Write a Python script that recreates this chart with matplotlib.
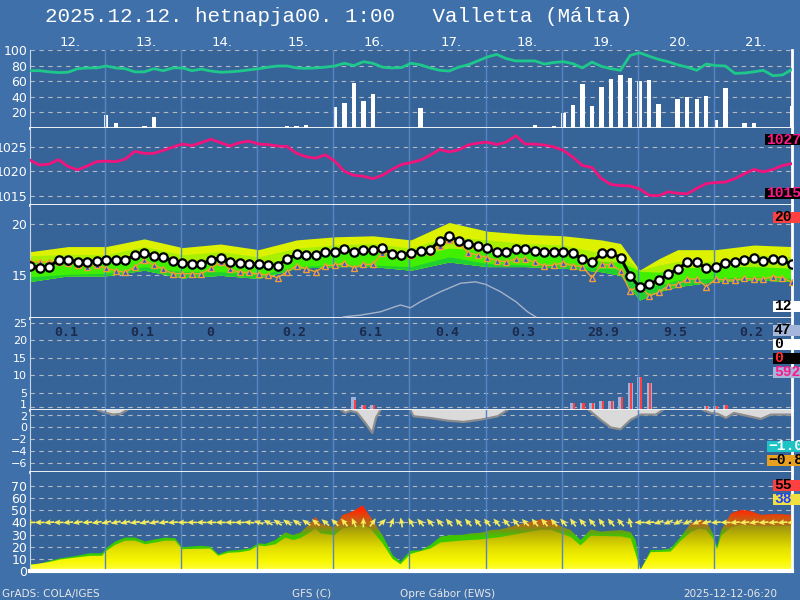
import numpy as np
import matplotlib
matplotlib.use('Agg')
import matplotlib.pyplot as plt
from matplotlib.colors import LinearSegmentedColormap
from matplotlib.path import Path
from matplotlib.patches import PathPatch, Rectangle
from matplotlib.transforms import blended_transform_factory, ScaledTranslation

# ---------------------------------------------------------------- data
hours = np.arange(0, 243, 3)          # 3-hourly steps, 10 days
day_names = ['12.', '13.', '14.', '15.', '16.', '17.', '18.', '19.', '20.', '21.']
day_lines = [23.5 + 24 * k for k in range(9)]

# relative humidity (%)
rh = [73.5, 73.5, 72, 71, 71.5, 76, 77, 77,
      79.5, 77, 76, 72, 72, 76, 73.5, 77,
      77, 73.5, 75.5, 73, 71.5, 72, 73, 74.5,
      76, 78, 79.5, 79.5, 77, 76.5, 77, 78,
      79.5, 83, 80, 85, 83, 78, 77, 77.5,
      83, 81, 77, 74, 73, 78, 81, 86,
      91, 94.4, 89, 86, 86, 86, 82, 84,
      85, 82.5, 77, 84.5, 79, 76, 74, 93,
      96.5, 92, 88, 85, 81, 78, 74, 82,
      80, 79.5, 70, 70.5, 72, 74, 67, 68, 75]

# cloud cover bars (%)
cloud_h = [24, 27, 36, 39, 81, 84, 87, 96, 99, 102, 105, 108, 123, 159, 165, 168, 171, 174,
           177, 180, 183, 186, 189, 192, 195, 198, 204, 207, 210, 213, 216, 219, 225, 228, 240]
cloud_v = [17, 6, 3, 14, 2, 2, 4, 27, 32, 58, 35, 43, 26, 4, 3, 19, 30, 56,
           28, 52, 63, 68, 64, 60, 61, 31, 37, 40, 37, 41, 10, 51, 6, 7, 28]

# sea level pressure (hPa)
slp = [1022.3, 1021.3, 1021.5, 1022.4, 1021.0, 1020.3, 1021.1, 1022.0,
       1022.1, 1022.0, 1022.5, 1024.1, 1023.7, 1023.7, 1024.3, 1025.0,
       1025.6, 1025.3, 1025.9, 1026.6, 1025.9, 1025.2, 1025.9, 1026.2,
       1025.6, 1025.5, 1025.2, 1025.1, 1023.7, 1023.0, 1022.7, 1023.4,
       1022.1, 1020.0, 1019.2, 1019.0, 1018.5, 1019.2, 1020.4, 1021.4,
       1021.8, 1022.3, 1023.3, 1024.5, 1024.0, 1024.4, 1025.4, 1025.8,
       1026.0, 1025.5, 1026.0, 1027.3, 1025.6, 1025.6, 1025.4, 1025.0,
       1024.3, 1022.9, 1021.2, 1020.8, 1018.5, 1017.3, 1017.1, 1017.0,
       1016.4, 1015.1, 1015.0, 1015.8, 1015.5, 1015.4, 1016.5, 1017.5,
       1017.7, 1017.8, 1018.5, 1019.5, 1020.4, 1019.9, 1020.4, 1021.2, 1021.6]

# 2 m temperature (deterministic) and second run
t2m = [15.94, 15.74, 15.84, 16.49, 16.49, 16.33, 16.33, 16.4,
       16.46, 16.52, 16.49, 16.98, 17.2, 16.88, 16.78, 16.42,
       16.2, 16.13, 16.07, 16.52, 16.66, 16.33, 16.17, 16.13,
       16.07, 16.0, 15.94, 16.59, 17.05, 16.95, 16.95, 17.24,
       17.3, 17.53, 17.27, 17.44, 17.44, 17.66, 17.08, 17.0,
       17.17, 17.4, 17.47, 18.38, 18.83, 18.35, 18.02, 17.9,
       17.63, 17.3, 17.3, 17.6, 17.53, 17.37, 17.3, 17.3,
       17.3, 17.2, 16.56, 16.27, 17.14, 17.14, 16.72, 14.96,
       13.83, 14.12, 14.54, 15.1, 15.61, 16.27, 16.27, 15.68,
       15.84, 16.2, 16.33, 16.52, 16.66, 16.39, 16.59, 16.46, 16.07]
t2m_b = [16.33, 16.3, 16.3, 16.3, 16.2, 16.0, 15.84, 16.0,
         15.68, 15.45, 15.29, 15.84, 16.49, 15.97, 15.61, 15.16,
         15.16, 15.16, 15.16, 15.68, 16.33, 15.61, 15.29, 15.29,
         15.1, 15.03, 14.77, 15.35, 15.94, 15.61, 15.35, 15.94,
         16.0, 16.17, 15.74, 16.07, 16.07, 17.2, 17.2, 16.98,
         17.0, 17.37, 17.24, 17.89, 18.44, 18.12, 17.2, 16.98,
         16.72, 16.43, 16.33, 16.59, 16.59, 16.27, 15.94, 16.0,
         16.23, 15.94, 15.84, 14.77, 16.07, 16.07, 15.42, 13.47,
         13.99, 13.01, 13.34, 13.99, 14.12, 14.64, 14.64, 13.89,
         14.64, 14.54, 14.54, 14.7, 14.64, 14.64, 14.86, 14.77, 14.32]

# ensemble spread band edges
ens_h = [0, 12, 24, 36, 48, 60, 72, 84, 96, 108, 120, 132, 144, 156, 168, 180, 186, 192, 198, 204, 216, 228, 240]
ens_top = [17.3, 17.8, 17.8, 18.55, 17.7, 18.05, 17.5, 18.45, 18.75, 18.85, 18.45, 20.15,
           19.3, 19.0, 18.85, 18.45, 18.1, 15.5, 16.6, 17.5, 17.5, 17.95, 17.8]
ens_b1 = [16.9, 17.05, 17.0, 17.8, 17.0, 17.3, 16.8, 17.65, 17.95, 18.1, 17.65, 18.8,
          18.45, 18.1, 17.95, 17.15, 17.1, 15.5, 16.0, 16.35, 16.35, 17.0, 16.8]
ens_b2 = [16.3, 16.3, 16.5, 17.0, 16.15, 16.5, 16.0, 16.8, 17.15, 17.3, 16.8, 17.65,
          17.45, 17.3, 17.0, 16.35, 16.3, 15.4, 15.3, 15.7, 15.85, 15.85, 15.7]
ens_b3 = [14.85, 15.1, 15.2, 15.85, 15.35, 15.35, 15.05, 15.85, 16.0, 16.0, 15.85, 16.8,
          16.15, 16.0, 16.0, 15.7, 15.6, 14.05, 14.0, 14.55, 14.7, 14.85, 14.7]
ens_lo = [14.4, 14.95, 14.95, 15.5, 14.75, 15.0, 14.7, 15.7, 15.85, 15.85, 15.5, 16.3,
          15.85, 15.85, 15.7, 15.35, 15.0, 12.6, 13.4, 13.9, 14.4, 14.55, 14.4]

# faint grey curve in temperature panel
aux_h = [98.7, 104, 110.4, 115, 116.7, 119.8, 123, 129.3, 135.6, 140.3, 143.5, 148.2, 153, 156.7, 159.3]
aux_v = [0.4, 1.0, 2.2, 4.0, 4.6, 3.6, 5.8, 9.3, 12.3, 12.8, 11.9, 9.3, 5.8, 2.2, 0.4]

# precipitation (mm / 3h)
pcp_h = [102, 105, 108, 171, 174, 177, 180, 183, 186, 189, 192, 195, 213, 216, 219]
pcp_v = [3.8, 1.4, 1.4, 1.9, 1.9, 1.9, 2.6, 2.6, 3.8, 7.6, 9.5, 7.6, 1.2, 1.1, 1.4]
pcpl_h = [99, 102, 105, 108, 135, 168, 171, 174, 177, 180, 183, 186, 189, 192, 195, 198,
          204, 207, 213, 216, 219, 240]
pcpl_v = [0.3, 2.9, 1.4, 1.4, 0.4, 0.4, 1.9, 1.9, 1.9, 2.6, 2.6, 3.8, 7.6, 9.5, 7.6, 0.4,
          0.3, 0.3, 1.1, 1.1, 1.4, 0.3]
daily_sum = ['0.1', '0.1', '0', '0.2', '6.1', '0.4', '0.3', '28.9', '9.5', '0.2']

# lower grey curve (hangs from the upper edge)
grey_h = [21.4, 23, 26.2, 28.5, 30.6, np.nan,
          98, 99.3, 100.9, 103, 105.6, 107.8, 109, 110.4, np.nan,
          119.8, 120.8, 126, 131.5, 136.5, 142, 147.3, 150.4, np.nan,
          176, 179.7, 182.9, 186, 189.2, 192.3, 194.9, 197.1, 199.3, np.nan,
          211.9, 214.4, 216.6, 219.2, 221.7, 225.5, 230.2, 233.4, 240]
grey_v = [2.84, 2.5, 2.07, 2.2, 2.84, np.nan,
          2.84, 2.35, 2.7, 2.4, 0.67, -1.0, 1.56, 2.84, np.nan,
          2.84, 1.79, 1.5, 1.06, 0.84, 1.22, 1.79, 2.84, np.nan,
          2.84, 1.2, -0.1, -0.4, 1.2, 2.07, 2.07, 2.07, 2.84, np.nan,
          2.84, 2.35, 2.2, 1.5, 2.35, 1.9, 1.34, 2.07, 2.07]

# wind gust / wind speed (km/h)
gust_h = [0, 3.2, 6.3, 9.5, 14.2, 18.9, 22.7, 24, 26.8, 30, 33.1, 36.3, 39.4, 42.6, 45.7, 47.9,
          50.5, 53.6, 56.8, 59.3, 62.4, 66.2, 69.4, 71.9, 74.1, 77.3, 80.4, 82.9, 85.1, 88.3,
          89.9, 91.5, 94, 95.9, 98.4, 101.5, 104.7, 107.2, 111, 114.2, 116.7, 119.8, 123,
          126.1, 129.3, 132.5, 135.6, 138.8, 141.9, 145.1, 148.2, 151.4, 154.5, 157.7, 160.8,
          164, 167.1, 170.3, 173.4, 176.6, 179.8, 182.9, 186.1, 189.2, 190.8, 192.3, 195.5,
          198.7, 201.8, 205, 208.1, 210.7, 212.9, 215.1, 216.4, 217.7, 220.8, 224, 226.5,
          230.2, 234.9, 240]
gust_v = [5.8, 5.8, 8.5, 10.4, 12.3, 14.6, 14.6, 18.7, 24.2, 27.5, 27.5, 24.2, 26.1, 27.5, 27, 19.6,
          20.1, 20.7, 20.1, 13.8, 16.6, 17.4, 18.7, 22.8, 22.3, 25.5, 31.8, 29.6, 31.5, 39.2,
          44.7, 39.2, 37, 36.4, 46, 48.8, 54, 44.7, 29.6, 13.2, 7.7, 16.7, 17,
          21.4, 28.3, 29.6, 29.6, 31, 31.5, 33.7, 34.3, 36.4, 38.6, 40.5, 42.5,
          41.9, 37, 33.7, 25.5, 34.3, 32.4, 33.2, 33.7, 32, 25, 1, 17.3,
          17.3, 18.6, 28.2, 39.2, 42, 41.2, 31, 20, 33.7, 47.5, 50.2, 49.6,
          46.3, 47, 46.3]
wind_h = [0, 6.3, 9.5, 14.2, 18.9, 22.7, 24, 26.8, 30, 33.1, 36.3, 39.4, 42.6, 45.7, 47.9, 56.8,
          59.3, 62.4, 66.2, 69.4, 71.9, 74.1, 77.3, 80.4, 82.9, 85.1, 88.3, 89.9, 91.5, 95.9,
          98.4, 101.5, 104.7, 107.2, 111, 114.2, 116.7, 119.8, 126.1, 129.3, 135.6, 141.9,
          148.2, 154.5, 160.8, 164, 167.1, 170.3, 173.4, 176.6, 186.1, 189.2, 192.3, 195.5,
          201.8, 205, 208.1, 210.7, 212.9, 215.1, 216.4, 217.7, 220.8, 224, 230.2, 240]
wind_v = [5, 7.5, 9.5, 11, 12.5, 12.5, 16.5, 21.5, 25, 25, 22, 23.5, 25, 25, 18, 18.5,
          12.5, 15, 15.5, 17, 21, 20.5, 22, 27.5, 25.5, 27, 32, 35, 31, 29.5,
          35, 36.5, 38, 35, 23, 10, 5.5, 14, 18.5, 23.5, 25, 26,
          28, 31, 34, 34, 31, 28, 21, 29, 28.5, 27, 1, 15.5,
          16, 25, 32, 35, 34, 27, 18, 29, 36, 38, 37, 37]

# wind arrow direction (degrees, direction the arrow points)
wdir = [180, 180, 185, 180, 185, 190, 185, 190,
        195, 195, 195, 190, 195, 195, 190, 185,
        180, 180, 180, 180, 180, 180, 180, 175,
        160, 150, 145, 145, 145, 145, 140, 140,
        135, 130, 115, 90, 55, 45, 70, 100,
        120, 130, 130, 130, 130, 130, 130, 130,
        130, 130, 130, 130, 135, 130, 130, 130,
        130, 125, 130, 130, 125, 130, 130, 105,
        180, 185, 200, 205, 210, 205, 205, 195,
        185, 180, 185, 185, 190, 185, 185, 185, 185]

# boxes on the right edge: text, y pixel, box colour, text colour, box left pixel
side_text = ['1027', '1015', '20', '12', '47', '0', '0', '592', '\u22121.0', '\u22120.8', '55', '38']
side_y = [140, 193, 217, 306, 330, 344, 358, 372, 446, 460, 485, 499]
side_bg = ['black', 'black', '#ff4040', 'white', '#a4b6da', 'white', 'black', '#a4b6da',
           '#1ec4c4', '#e8a020', '#ff4040', '#f0e040']
side_fg = ['#ff1a8c', '#ff1a8c', 'black', 'black', 'black', 'black', '#ff3030', '#ff1a8c',
           'white', 'black', 'black', '#2040ff']
side_x0 = [765, 765, 773, 773, 773, 773, 773, 773, 767, 767, 773, 773]

OUTER = '#3f70a9'
INNER = '#366499'
GRID = '#b4b8c0'
DAYLINE = '#5585c4'

fig = plt.figure(figsize=(8, 6), dpi=100)
fig.patch.set_facecolor(OUTER)


def panel(top, bottom, ylim, ticks, lsize=9):
    ax = fig.add_axes([30 / 800, 1 - bottom / 600, 762 / 800, (bottom - top) / 600])
    ax.set_facecolor(INNER)
    ax.set_xlim(0, 240)
    ax.set_ylim(*ylim)
    ax.set_xticks([])
    ax.set_yticks(ticks)
    ax.tick_params(axis='y', length=0, pad=2, labelsize=lsize, labelcolor='white')
    for t in ticks:
        ax.axhline(t, color=GRID, lw=0.8, ls=(0, (4, 4)), zorder=0.5)
    for d in day_lines:
        ax.axvline(d, color=DAYLINE, lw=1, zorder=2.5)
    ax.spines['top'].set_visible(False)
    ax.spines['bottom'].set_color('white')
    ax.spines['bottom'].set_linewidth(2)
    ax.spines['right'].set_color('white')
    ax.spines['right'].set_linewidth(2)
    ax.spines['left'].set_color('#c8d4e8')
    ax.spines['left'].set_linewidth(0.8)
    return ax


def clip_area(ax, x, ytop):
    x = np.asarray(x, float)
    verts = np.column_stack([np.r_[x, x[::-1]], np.r_[ytop, np.zeros(len(x))]])
    patch = PathPatch(Path(verts), facecolor='none', edgecolor='none', transform=ax.transData)
    ax.add_patch(patch)
    return patch


def nudge(label, dy_px):
    label.set_transform(label.get_transform() + ScaledTranslation(0, dy_px / 100, fig.dpi_scale_trans))


# ---- panel 1: humidity + cloud
ax1 = panel(50, 128, (0, 100), [20, 40, 60, 80, 100])
ax1.bar(cloud_h, cloud_v, width=1.4, color='white', zorder=2)
ax1.plot(hours, rh, color='#1ec88a', lw=2, zorder=3)

# ---- panel 2: pressure
ax2 = panel(128, 205, (1013.1, 1028.9), [1015, 1020, 1025])
ax2.plot(hours, slp, color='#f0147c', lw=2, zorder=3)

# ---- panel 3: temperature
ax3 = panel(205, 318, (10.84, 21.85), [15, 20])
ax3.fill_between(ens_h, ens_lo, ens_top, color='#dcf200', lw=0, zorder=1)
ax3.fill_between(ens_h, ens_lo, ens_b1, color='#a8f000', lw=0, zorder=1)
ax3.fill_between(ens_h, ens_lo, ens_b2, color='#40f000', lw=0, zorder=1)
ax3.fill_between(ens_h, ens_lo, ens_b3, color='#20d030', lw=0, zorder=1)
ax3.plot(hours, t2m_b, color='#f0a030', lw=1, marker='^', ms=4.5, mfc='#3050e0',
         mec='#f0a030', mew=1, zorder=3)
ax3.plot(hours, t2m, color='black', lw=2.2, marker='o', ms=6, mfc='white',
         mec='black', mew=1.6, zorder=4)
ax3b = fig.add_axes(ax3.get_position(), facecolor='none')
ax3b.set_xlim(0, 240)
ax3b.set_ylim(0, 40)
ax3b.axis('off')
ax3b.plot(aux_h, aux_v, color='#a6b2c8', lw=1)

# ---- panel 4: precipitation
ax4 = panel(318, 410, (0, 26.3), [1, 5, 10, 15, 20, 25], lsize=8)
ax4.bar(pcp_h, pcp_v, width=1.6, color='#9db3dc', zorder=2)
ax4.bar(np.asarray(pcpl_h) + 0.35, pcpl_v, width=0.7, color='#ff4040', zorder=2.2)
for k, s in enumerate(daily_sum):
    ax4.text(7.5 + 24 * k, 0.84, s, transform=blended_transform_factory(ax4.transData, ax4.transAxes),
             ha='left', va='center', fontsize=9.5, family='DejaVu Sans Mono', weight='bold',
             color='#1c2a4c')

ax4l = panel(410, 472, (-7.56, 2.84), [2, 0, -2, -4, -6], lsize=8)
ax4l.fill_between(grey_h, grey_v, 2.84, color='#dadada', lw=0, zorder=1)
ax4l.plot(grey_h, grey_v, color='#8c8c8c', lw=1.6, zorder=1.5)
fig.canvas.draw()
nudge(ax4.get_yticklabels()[0], 3)
nudge(ax4l.get_yticklabels()[0], -0.5)

# ---- panel 5: wind
ax5 = panel(472, 571, (0, 81.5), [0, 10, 20, 30, 40, 50, 60, 70])
ax5.spines['bottom'].set_linewidth(3)
grad = np.linspace(0, 81.5, 300).reshape(-1, 1)
gust_cmap = LinearSegmentedColormap.from_list('gust', [
    (0, '#30d000'), (28 / 81.5, '#3cc800'), (33 / 81.5, '#6e9a10'), (38 / 81.5, '#b07018'),
    (44 / 81.5, '#d85010'), (50 / 81.5, '#ff2800'), (1, '#ff2000')])
wind_cmap = LinearSegmentedColormap.from_list('wind', [
    (0, '#ffff40'), (8 / 81.5, '#f8f800'), (18 / 81.5, '#e4e000'), (28 / 81.5, '#c2ba00'),
    (36 / 81.5, '#a09810'), (1, '#909010')])
im_g = ax5.imshow(grad, extent=[0, 240, 0, 81.5], origin='lower', aspect='auto',
                  cmap=gust_cmap, vmin=0, vmax=81.5, zorder=1)
im_g.set_clip_path(clip_area(ax5, gust_h, gust_v))
im_w = ax5.imshow(grad, extent=[0, 240, 0, 81.5], origin='lower', aspect='auto',
                  cmap=wind_cmap, vmin=0, vmax=81.5, zorder=1.5)
im_w.set_clip_path(clip_area(ax5, wind_h, wind_v))
ax5.set_xlim(0, 240)
ax5.set_ylim(0, 81.5)
ang = np.radians(wdir)
ax5.quiver(hours, np.full(len(hours), 40.0), np.cos(ang), np.sin(ang), angles='uv',
           scale_units='inches', scale=10, pivot='middle', color='#f4ec5a', width=0.0022,
           headwidth=3.5, headlength=4, headaxislength=3.5, zorder=5)

# ---- texts
fig.text(45 / 800, 1 - 16 / 600, '2025.12.12. hetnapja00. 1:00   Valletta (M\u00e1lta)',
         ha='left', va='center', color='white', fontsize=15, family='Liberation Mono')
day_tr = blended_transform_factory(ax1.transData, fig.transFigure)
for k, s in enumerate(day_names):
    fig.text(12.5 + 24 * k, 1 - 42 / 600, s, transform=day_tr, ha='center', va='center',
             color='white', fontsize=9.5)

foot = dict(ha='left', va='center', color='#e8e8e8', fontsize=7.5)
fig.text(2 / 800, 1 - 594 / 600, 'GrADS: COLA/IGES', **foot)
fig.text(292 / 800, 1 - 594 / 600, 'GFS (C)', **foot)
fig.text(400 / 800, 1 - 594 / 600, 'Opre G\u00e1bor (EWS)', **foot)
fig.text(683 / 800, 1 - 594 / 600, '2025-12-12-06:20', **foot)

for s, y, bg, fg, x0 in zip(side_text, side_y, side_bg, side_fg, side_x0):
    fig.patches.append(Rectangle((x0 / 800, 1 - (y + 5.5) / 600), (800 - x0) / 800, 11 / 600,
                                 transform=fig.transFigure, facecolor=bg, edgecolor='none', zorder=10))
    fig.text((x0 + 1) / 800, 1 - y / 600, s, ha='left', va='center', color=fg, fontsize=10.5,
             family='Liberation Mono', weight='bold', zorder=11)

fig.savefig('out.png', dpi=100, facecolor=fig.get_facecolor())
